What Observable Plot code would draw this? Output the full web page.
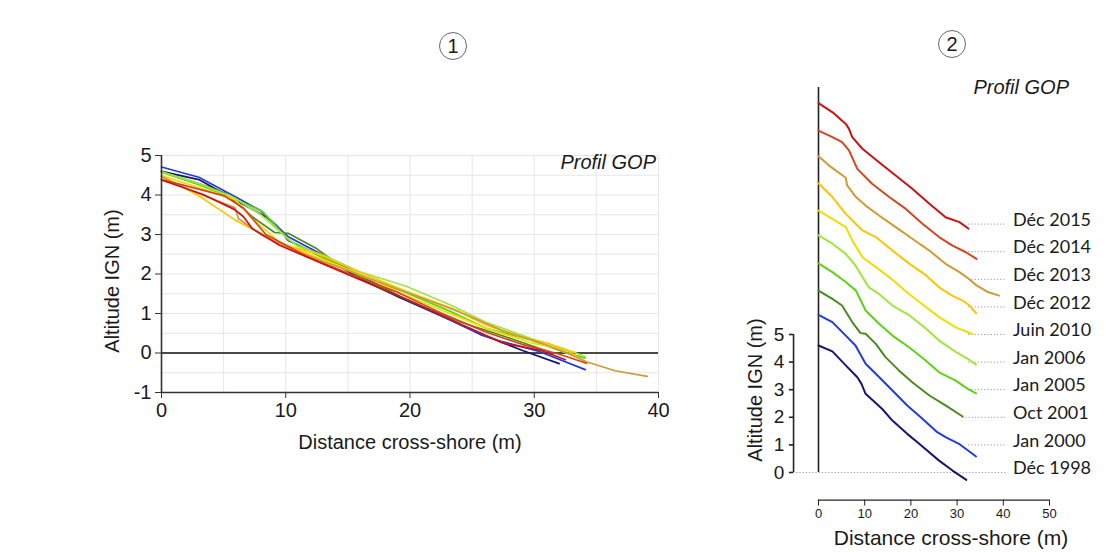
<!DOCTYPE html>
<html><head><meta charset="utf-8">
<script src="https://cdn.jsdelivr.net/npm/d3@7"></script>
<script src="https://cdn.jsdelivr.net/npm/@observablehq/plot@0.6"></script>
<style>
body{margin:0;background:#fff;}
#wrap{position:relative;width:1110px;height:552px;overflow:hidden;font-family:"Liberation Sans",Arial,sans-serif;color:#1a1a1a;background:#fff;}
#wrap svg{position:absolute;top:0;overflow:visible;}
.abs{position:absolute;white-space:nowrap;line-height:1;}
.circ{position:absolute;width:26px;height:26px;border:1px solid #666;border-radius:50%;text-align:center;line-height:26px;font-size:20px;}
</style></head><body><div id="wrap"></div>
<script>
// ---- data ----
const surveys = ["Déc 1998","Jan 2000","Oct 2001","Jan 2005","Jan 2006","Juin 2010","Déc 2012","Déc 2013","Déc 2014","Déc 2015"];
const colors  = ["#16166f","#1f3ae6","#4b8a1f","#5ed313","#a2e63c","#f2dd00","#ffc400","#d09a35","#d6461d","#cc1212"];
const offsets = [0,1,2,3,4,5,6,7,8,9];   // vertical stacking of panel 2 (m)

const dist1998 = [0,3.0,5.9,8.4,9.3,10.2,13.8,16.0,19.2,21.8,26.1,29.0,32.0];
const alt1998  = [4.60,4.39,3.88,3.45,3.21,2.85,2.30,1.88,1.40,1.04,0.43,0.07,-0.27];
const dist2000 = [0,3.0,5.9,8.0,10.2,13.1,16.0,19.2,22.5,25.7,27.5,30.4,34.1];
const alt2000  = [4.71,4.45,3.96,3.60,2.94,2.46,1.97,1.43,0.95,0.46,0.28,0.04,-0.42];
const dist2001 = [0,3.0,5.1,7.3,9.1,10.2,12.4,14.5,17.4,20.3,24.0,27.5,31.2];
const alt2001  = [4.59,4.29,4.05,3.45,3.05,3.03,2.66,2.18,1.70,1.27,0.79,0.43,0.03];
const dist2005 = [0,3.0,5.9,8.1,10.2,13.1,16.0,19.6,23.2,26.1,29.7,32.3,34.1];
const alt2005  = [4.58,4.26,3.90,3.59,2.87,2.39,1.96,1.54,1.06,0.63,0.33,0.03,-0.13];
const dist2006 = [0,3.0,5.9,8.0,9.5,10.9,13.1,16.0,19.7,23.3,26.1,29.8,32.3,34.1];
const alt2006  = [4.59,4.29,3.92,3.50,3.08,2.71,2.47,2.05,1.69,1.21,0.78,0.36,0.12,-0.09];
const dist2010 = [0,3.0,5.9,7.3,9.5,12.4,15.3,18.2,19.6,23.3,26.1,29.7,33.3];
const alt2010  = [4.49,4.19,3.89,3.41,2.80,2.44,2.08,1.67,1.47,0.99,0.63,0.26,0.02];
const dist2012 = [0,3.0,5.9,9.5,12.4,16.0,19.7,23.3,26.1,29.0,31.2,32.7,34.1];
const alt2012  = [4.48,3.98,3.37,2.77,2.53,2.04,1.56,1.14,0.71,0.40,0.23,0.05,-0.23];
const dist2013 = [0,2.3,5.9,6.2,8.1,10.2,13.1,16.7,20.3,24.0,27.5,30.5,32.5,34.2,36.5,39.1];
const alt2013  = [4.46,4.12,3.68,3.40,2.98,2.67,2.31,1.89,1.47,1.04,0.56,0.26,0.02,-0.22,-0.45,-0.59];
const dist2014 = [0,3.0,5.1,6.6,8.4,11.6,15.3,18.9,22.5,26.1,29.0,31.9,34.2];
const alt2014  = [4.39,4.15,3.97,3.67,3.00,2.46,1.98,1.55,1.01,0.53,0.22,-0.02,-0.26];
const dist2015 = [0,3.3,5.9,6.6,7.3,9.5,13.1,16.7,20.3,24.0,27.5,30.5,32.5];
const alt2015  = [4.38,4.02,3.63,3.45,3.15,2.73,2.24,1.76,1.28,0.74,0.25,0.07,-0.17];

const distances = [dist1998,dist2000,dist2001,dist2005,dist2006,dist2010,dist2012,dist2013,dist2014,dist2015];
const altitudes = [alt1998,alt2000,alt2001,alt2005,alt2006,alt2010,alt2012,alt2013,alt2014,alt2015];

const xTicks1 = [0,10,20,30,40];
const yTicks1 = [-1,0,1,2,3,4,5];
const xGrid1 = d3.range(0,40.1,5);
const yGrid1 = d3.range(-1,5.01,0.5);
const xTicks2 = [0,10,20,30,40,50];
const yTicks2 = [0,1,2,3,4,5];

// ---- table ----
const rows = [];
surveys.forEach((s,i)=>distances[i].forEach((d,j)=>rows.push({survey:s,color:colors[i],dist:d,alt:altitudes[i][j],stack:altitudes[i][j]+offsets[i]})));
const labels = surveys.map((s,i)=>({survey:s,off:offsets[i],end:d3.max(distances[i]),first:i===0}));

const wrap = document.getElementById("wrap");
const baseStyle = {fontFamily:"'Liberation Sans',Arial,sans-serif",background:"transparent",color:"#1a1a1a",overflow:"visible"};

// ---- panel 1 ----
const p1 = Plot.plot({
  width:680,height:552,marginLeft:161,marginRight:22,marginTop:155,marginBottom:160,
  style:baseStyle,
  x:{domain:[0,40]},
  y:{domain:[-1,5]},
  marks:[
    Plot.gridX(xGrid1,{stroke:"#e6e6e6",strokeOpacity:1}),
    Plot.gridY(yGrid1,{stroke:"#e6e6e6",strokeOpacity:1}),
    Plot.ruleY([0],{stroke:"#111",strokeWidth:1.6}),
    Plot.line(rows,{x:"dist",y:"alt",z:"survey",stroke:"color",strokeWidth:1.7}),
    Plot.ruleX([0],{stroke:"#333",strokeWidth:1.6}),
    Plot.ruleY([-1],{stroke:"#333",strokeWidth:1.6}),
    Plot.axisY(yTicks1,{tickSize:6,tickPadding:4,fontSize:20,label:null,stroke:"#333",tickFormat:d=>String(d)}),
    Plot.axisX(xTicks1,{tickSize:6,tickPadding:4,fontSize:20,label:null,stroke:"#333",tickFormat:d=>String(d)})
  ]
});
p1.style.left="0px";
wrap.appendChild(p1);

// ---- panel 2 ----
const axisX2 = -5.4; // y-axis of panel 2 sits left of the profiles' origin
const tickLen2 = 0.9; // tick length of panel-2 y axis, in metres of x
const p2 = Plot.plot({
  width:410,height:552,marginLeft:118,marginRight:61,marginTop:85.6,marginBottom:52.4,
  style:baseStyle,
  x:{domain:[0,50]},
  y:{domain:[-1,14],axis:null},
  marks:[
    Plot.ruleY(labels,{y:"off",x1:d=>d.first?axisX2:Math.min(d.end,32.5),x2:40.6,stroke:"#9a9a9a",strokeWidth:1,strokeDasharray:"1.2,2"}),
    Plot.ruleX([0],{y1:0,y2:13.95,stroke:"#222",strokeWidth:1.6}),
    Plot.line(rows,{x:"dist",y:"stack",z:"survey",stroke:"color",strokeWidth:2}),
    Plot.text(labels,{x:42.1,y:"off",text:"survey",textAnchor:"start",dy:-4,fontSize:18,fontFamily:"Lato, 'Open Sans', sans-serif",fill:"#1a1a1a"}),
    Plot.ruleX([axisX2],{y1:d3.min(yTicks2),y2:d3.max(yTicks2),stroke:"#222",strokeWidth:1.6}),
    Plot.ruleY(yTicks2,{y:d=>d,x1:axisX2-tickLen2,x2:axisX2,stroke:"#222",strokeWidth:1.6}),
    Plot.text(yTicks2,{y:d=>d,x:axisX2-tickLen2,text:d=>String(d),textAnchor:"end",dx:-5,fontSize:19,fill:"#1a1a1a"}),
    Plot.ruleY([-1],{x1:d3.min(xTicks2),x2:d3.max(xTicks2),stroke:"#222",strokeWidth:1.4}),
    Plot.axisX(xTicks2,{tickSize:6,tickPadding:3,fontSize:13,label:null,stroke:"#222",tickFormat:d=>String(d)})
  ]
});
p2.style.left="700px";
wrap.appendChild(p2);

// ---- titles ----
function addText(txt,css){const d=document.createElement("div");d.className="abs";d.textContent=txt;Object.assign(d.style,css);wrap.appendChild(d);return d;}
addText("Altitude IGN (m)",{left:"112px",top:"281px",fontSize:"20px",transform:"translate(-50%,-50%) rotate(-90deg)"});
addText("Distance cross-shore (m)",{left:"410px",top:"442px",fontSize:"20px",transform:"translate(-50%,-50%)"});
addText("Profil GOP",{left:"656px",top:"162px",fontSize:"20px",fontStyle:"italic",transform:"translate(-100%,-50%)"});
addText("Altitude IGN (m)",{left:"755px",top:"390px",fontSize:"20px",transform:"translate(-50%,-50%) rotate(-90deg)"});
addText("Distance cross-shore (m)",{left:"951px",top:"537px",fontSize:"21px",transform:"translate(-50%,-50%)"});
addText("Profil GOP",{left:"1069px",top:"87px",fontSize:"20px",fontStyle:"italic",transform:"translate(-100%,-50%)"});
[["1",453,46],["2",952,44]].forEach(([t,x,y])=>{const c=document.createElement("div");c.className="circ";c.textContent=t;c.style.left=(x-14)+"px";c.style.top=(y-14)+"px";wrap.appendChild(c);});
</script>
</body></html>
